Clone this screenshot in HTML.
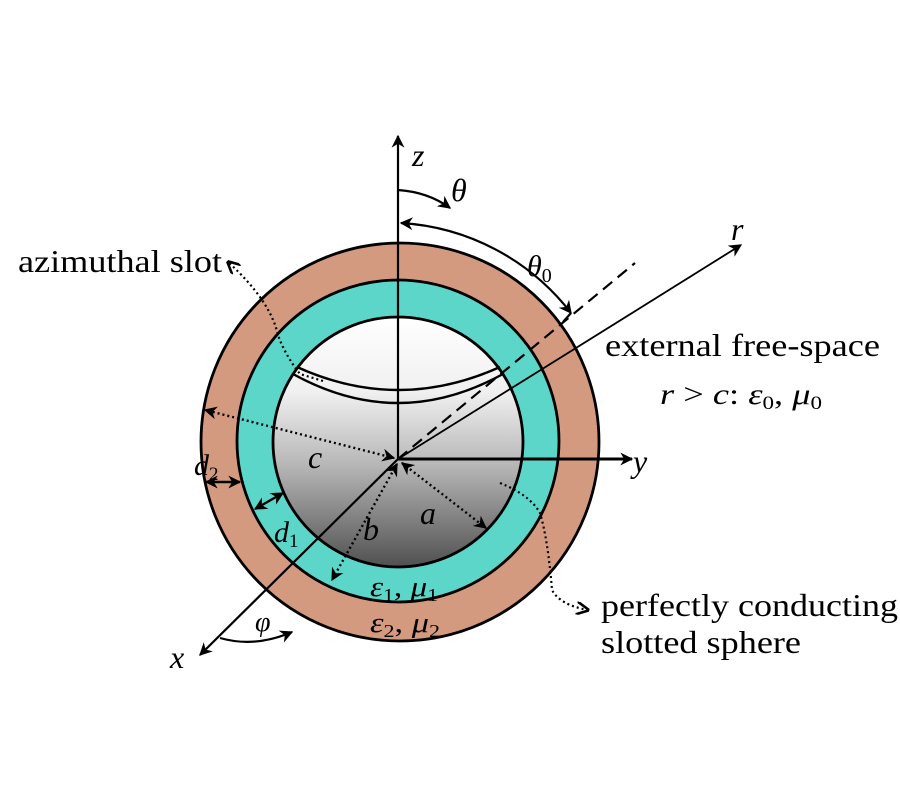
<!DOCTYPE html>
<html><head><meta charset="utf-8"><style>
html,body{margin:0;padding:0;background:#fff;}
svg{display:block;}
text{font-family:"Liberation Serif",serif;fill:#000;}
.i{font-style:italic;}
</style></head><body>
<svg width="900" height="800" viewBox="0 0 900 800" xmlns="http://www.w3.org/2000/svg">
<defs>
<linearGradient id="g" x1="0" y1="0" x2="0" y2="1">
<stop offset="0" stop-color="#ffffff"/>
<stop offset="0.3" stop-color="#f0f0f0"/>
<stop offset="0.6" stop-color="#b5b5b5"/>
<stop offset="1" stop-color="#505050"/>
</linearGradient>
<marker id="ah" viewBox="0 0 10 10" refX="9" refY="5" markerWidth="13" markerHeight="13" orient="auto-start-reverse" markerUnits="userSpaceOnUse">
<path d="M0,0 L10,5 L0,10 L3,5 z" fill="#000"/>
</marker>
<marker id="oa" viewBox="0 0 10 10" refX="9" refY="5" markerWidth="13" markerHeight="13" orient="auto-start-reverse" markerUnits="userSpaceOnUse">
<path d="M0,0 L10,5 L0,10" fill="none" stroke="#000" stroke-width="2"/>
</marker>
</defs>
<circle cx="400" cy="442" r="199" fill="#d49a80" stroke="#000" stroke-width="2.8"/>
<circle cx="398" cy="441" r="161" fill="#5cd6c8" stroke="#000" stroke-width="2.8"/>
<circle cx="398" cy="442" r="125" fill="url(#g)" stroke="#000" stroke-width="2.8"/>
<path d="M297,367 Q398,413 500,367" fill="none" stroke="#000" stroke-width="2.4"/>
<path d="M293,374 Q398,432 503,374" fill="none" stroke="#000" stroke-width="2.4"/>
<line x1="398" y1="459" x2="398" y2="136" stroke="#000" stroke-width="2.2" marker-end="url(#ah)"/>
<line x1="398" y1="459" x2="632" y2="459" stroke="#000" stroke-width="3" marker-end="url(#ah)"/>
<line x1="398" y1="459" x2="200" y2="655" stroke="#000" stroke-width="2.2" marker-end="url(#ah)"/>
<line x1="398" y1="459" x2="741" y2="245" stroke="#000" stroke-width="1.8" marker-end="url(#ah)"/>
<line x1="398" y1="459" x2="635" y2="263" stroke="#000" stroke-width="2.2" stroke-dasharray="12,7"/>
<path d="M398,190 Q428,192 450,208" fill="none" stroke="#000" stroke-width="2.2" marker-end="url(#ah)"/>
<path d="M401,223 A232,232 0 0 1 571,313" fill="none" stroke="#000" stroke-width="2.2" marker-start="url(#ah)" marker-end="url(#ah)"/>
<line x1="571" y1="313" x2="563" y2="322" stroke="#000" stroke-width="2.2"/>
<path d="M220,638 Q255,648 292,632" fill="none" stroke="#000" stroke-width="2.2" marker-end="url(#ah)"/>
<line x1="394" y1="458" x2="205" y2="410" stroke="#000" stroke-width="2.4" stroke-dasharray="2,3" marker-start="url(#ah)" marker-end="url(#ah)"/>
<line x1="402" y1="463" x2="486" y2="528" stroke="#000" stroke-width="2.4" stroke-dasharray="2,3" marker-start="url(#ah)" marker-end="url(#ah)"/>
<line x1="397" y1="464" x2="332" y2="580" stroke="#000" stroke-width="2.4" stroke-dasharray="2,3" marker-start="url(#ah)" marker-end="url(#ah)"/>
<line x1="206" y1="482" x2="240" y2="482" stroke="#000" stroke-width="2.4" marker-start="url(#ah)" marker-end="url(#ah)"/>
<line x1="255" y1="509" x2="283" y2="493" stroke="#000" stroke-width="2.4" marker-start="url(#ah)" marker-end="url(#ah)"/>
<path d="M323,381 L300,374 Q285,355 278,335 Q270,300 228,262" fill="none" stroke="#000" stroke-width="2.2" stroke-dasharray="2,3" marker-end="url(#oa)"/>
<path d="M500,483 Q530,495 540,513 Q548,540 552,590 Q560,605 588,610" fill="none" stroke="#000" stroke-width="2.2" stroke-dasharray="2,3" marker-end="url(#oa)"/>
<text x="412" y="166" font-size="32" class="i">z</text>
<text x="451" y="201" font-size="32" class="i">θ</text>
<text x="527" y="276" font-size="30" class="i">θ<tspan font-size="20" dy="6" font-style="normal">0</tspan></text>
<text x="731" y="240" font-size="32" class="i">r</text>
<text x="633" y="472" font-size="32" class="i">y</text>
<text x="170" y="668" font-size="32" class="i">x</text>
<text x="255" y="631" font-size="28" class="i">φ</text>
<text x="18" y="272" font-size="32" textLength="204" lengthAdjust="spacingAndGlyphs">azimuthal slot</text>
<text x="605" y="356" font-size="32" textLength="275" lengthAdjust="spacingAndGlyphs">external free-space</text>
<text x="660" y="404" font-size="30" textLength="162" lengthAdjust="spacingAndGlyphs"><tspan class="i">r</tspan> &gt; <tspan class="i">c</tspan>: <tspan class="i">ε</tspan><tspan font-size="19" dy="5">0</tspan><tspan dy="-5">, </tspan><tspan class="i">μ</tspan><tspan font-size="19" dy="5">0</tspan></text>
<text x="601" y="616" font-size="32" textLength="297" lengthAdjust="spacingAndGlyphs">perfectly conducting</text>
<text x="601" y="653" font-size="32" textLength="200" lengthAdjust="spacingAndGlyphs">slotted sphere</text>
<text x="370" y="596" font-size="28" textLength="68" lengthAdjust="spacingAndGlyphs"><tspan class="i">ε</tspan><tspan font-size="18" dy="5">1</tspan><tspan dy="-5">, </tspan><tspan class="i">μ</tspan><tspan font-size="18" dy="5">1</tspan></text>
<text x="370" y="632" font-size="28" textLength="70" lengthAdjust="spacingAndGlyphs"><tspan class="i">ε</tspan><tspan font-size="18" dy="5">2</tspan><tspan dy="-5">, </tspan><tspan class="i">μ</tspan><tspan font-size="18" dy="5">2</tspan></text>
<text x="194" y="475" font-size="30" class="i">d<tspan font-size="19" dy="5" font-style="normal">2</tspan></text>
<text x="274" y="542" font-size="30" class="i">d<tspan font-size="19" dy="5" font-style="normal">1</tspan></text>
<text x="308" y="468" font-size="32" class="i">c</text>
<text x="420" y="524" font-size="32" class="i">a</text>
<text x="363" y="540" font-size="32" class="i">b</text>
</svg>
</body></html>
